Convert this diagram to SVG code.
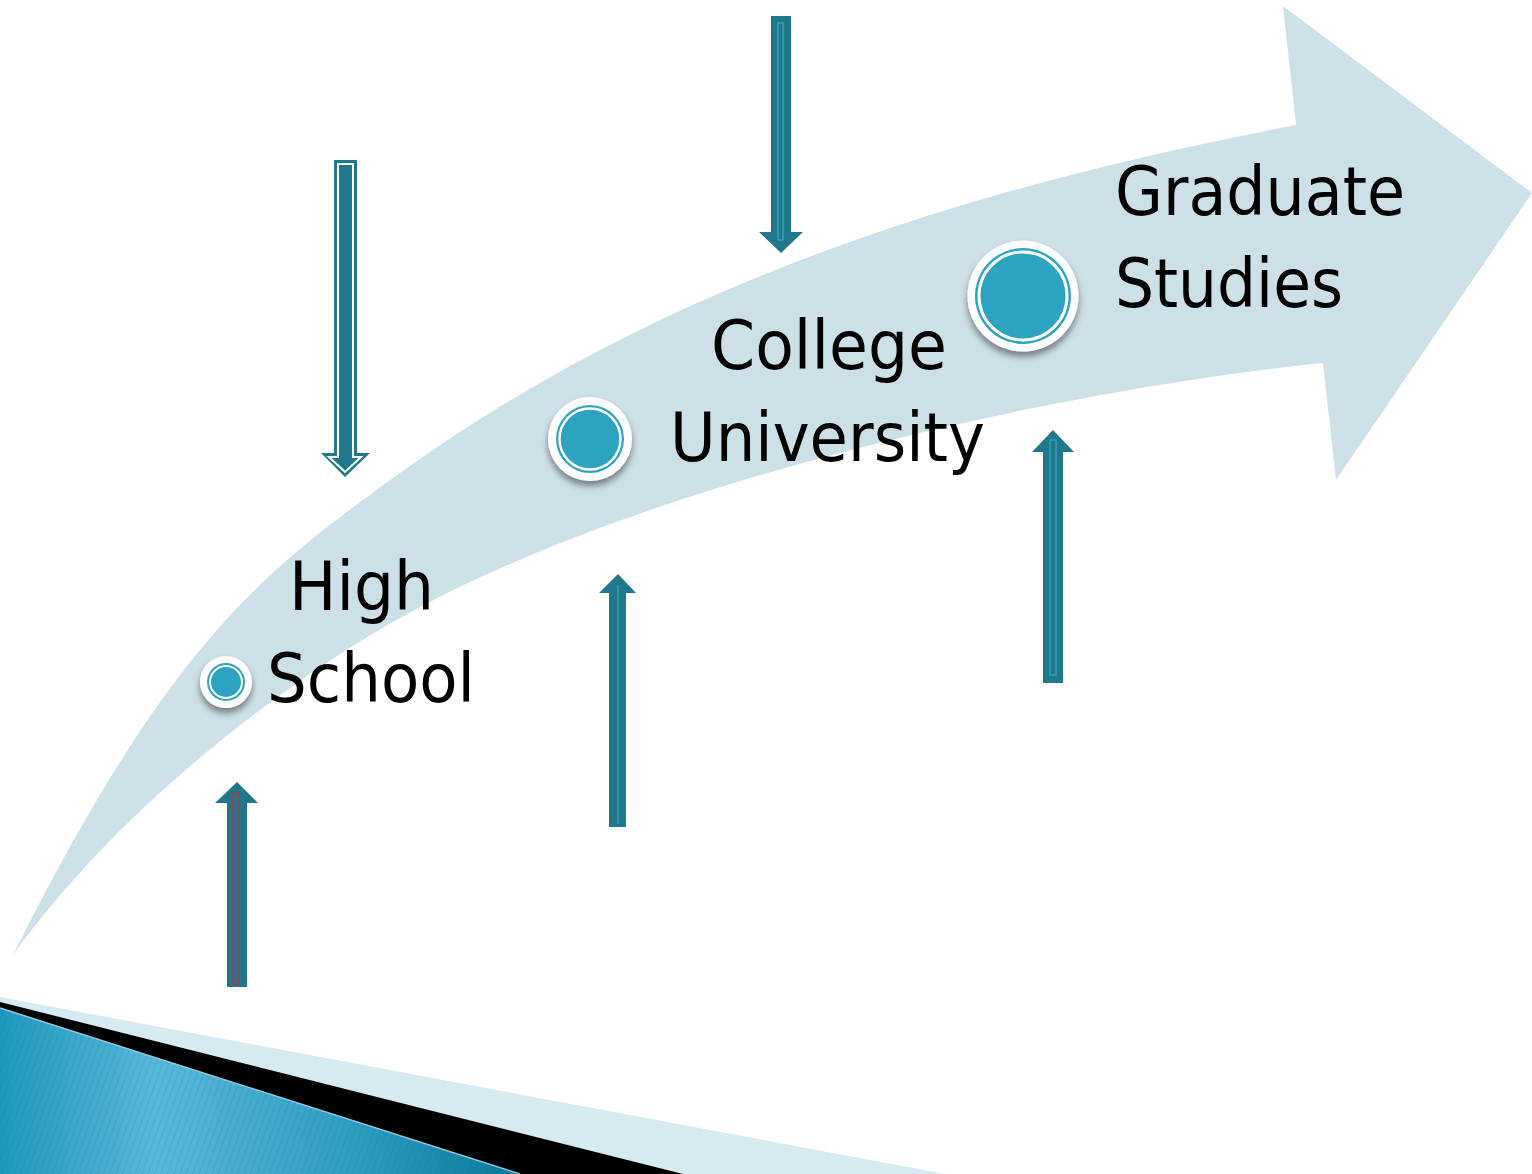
<svg xmlns="http://www.w3.org/2000/svg" width="1532" height="1174" viewBox="0 0 1532 1174">
<style>
.lbl{font-family:"DejaVu Sans","Open Sans",sans-serif;font-size:68px;fill:#000}
.arr{fill:#1f788b}
.inl{fill:none;stroke:#3aa8c2;stroke-width:1.2}
.dot{fill:#2ca3c0}
</style>
<defs>
<filter id="sh" x="-50%" y="-50%" width="200%" height="200%">
<feDropShadow dx="0" dy="5" stdDeviation="3.5" flood-color="#000" flood-opacity="0.45"/>
</filter>
<linearGradient id="bg" x1="0" y1="0" x2="1" y2="0">
<stop offset="0" stop-color="#1e98be"/>
<stop offset="0.3" stop-color="#5ab8da"/>
<stop offset="0.7" stop-color="#2a9cc0"/>
<stop offset="1" stop-color="#0a7898"/>
</linearGradient>
<pattern id="st" width="6" height="6" patternUnits="userSpaceOnUse" patternTransform="rotate(20)">
<line x1="0" y1="0" x2="0" y2="6" stroke="#0d6f8e" stroke-width="1" stroke-opacity="0.35"/>
</pattern>
</defs>
<rect width="1532" height="1174" fill="#fff"/>

<g id="decor">
<polygon points="0,997 945,1174 0,1174" fill="#d7e9f1"/>
<polygon points="0,1002 683,1174 0,1174" fill="#000"/>
<polygon points="0,1008 520,1174 0,1174" fill="url(#bg)"/>
<polygon points="0,1008 520,1174 0,1174" fill="url(#st)"/>
<line x1="0" y1="1008" x2="520" y2="1174" stroke="#8ccbe0" stroke-width="1.5"/>
</g>

<g id="path-arrow">
<path d="M13,955 C173,635 270,567 400,473 C650,293 946,191.5 1296,125 L1283,6 L1532,193 L1336,480 L1323,363 C1073,388 650,478 400,618 C270,691 113,816 13,955 Z" fill="#cde0e8"/>
</g>

<g id="connectors">
<g id="arrow1">
<path class="arr" d="M334,160 H357 V453 H370 L345,477 L321,453 H334 Z"/>
<path d="M338,164 H353 V457 H361 L345,472 L329,457 H338 Z" fill="none" stroke="#fff" stroke-width="2"/>
</g>
<g id="arrow2">
<path class="arr" d="M771,16 H791 V232 H803 L781,253 L759,232 H771 Z"/>
<rect class="inl" x="778" y="23" width="5" height="217"/>
</g>
<g id="arrow3">
<path class="arr" d="M609,827 V593 H599 L618,574 L636,593 H626 V827 Z"/>
<line class="inl" x1="618" y1="585" x2="618" y2="824"/>
</g>
<g id="arrow4">
<path class="arr" d="M1043,683 V452 H1032 L1053,430 L1074,452 H1063 V683 Z"/>
<rect class="inl" x="1050" y="440" width="6" height="235"/>
</g>
<g id="arrow5">
<path class="arr" d="M227,987 V803 H215 L237,782 L258,803 H247 V987 Z"/>
<rect x="233" y="793" width="6" height="191" fill="none" stroke="#d0283c" stroke-width="1.3"/>
</g>
</g>

<g id="node-highschool">
<circle cx="226" cy="682" r="26" fill="#fff" filter="url(#sh)"/>
<circle class="dot" cx="226" cy="682" r="19"/>
<circle cx="226" cy="682" r="16" fill="none" stroke="#fff" stroke-width="2"/>
<text class="lbl" x="289" y="610" textLength="145" lengthAdjust="spacingAndGlyphs">High</text>
<text class="lbl" x="267" y="702" textLength="208" lengthAdjust="spacingAndGlyphs">School</text>
</g>

<g id="node-college">
<circle cx="590" cy="439" r="42" fill="#fff" filter="url(#sh)"/>
<circle class="dot" cx="590" cy="439" r="34"/>
<circle cx="590" cy="439" r="30.5" fill="none" stroke="#fff" stroke-width="2.5"/>
<text class="lbl" x="711" y="369" textLength="236" lengthAdjust="spacingAndGlyphs">College</text>
<text class="lbl" x="670" y="461" textLength="315" lengthAdjust="spacingAndGlyphs">University</text>
</g>

<g id="node-graduate">
<circle cx="1023" cy="296" r="55.5" fill="#fff" filter="url(#sh)"/>
<circle class="dot" cx="1023" cy="296" r="48"/>
<circle cx="1023" cy="296" r="44" fill="none" stroke="#fff" stroke-width="3"/>
<text class="lbl" x="1115" y="215" textLength="290" lengthAdjust="spacingAndGlyphs">Graduate</text>
<text class="lbl" x="1115" y="307" textLength="228" lengthAdjust="spacingAndGlyphs">Studies</text>
</g>
</svg>
